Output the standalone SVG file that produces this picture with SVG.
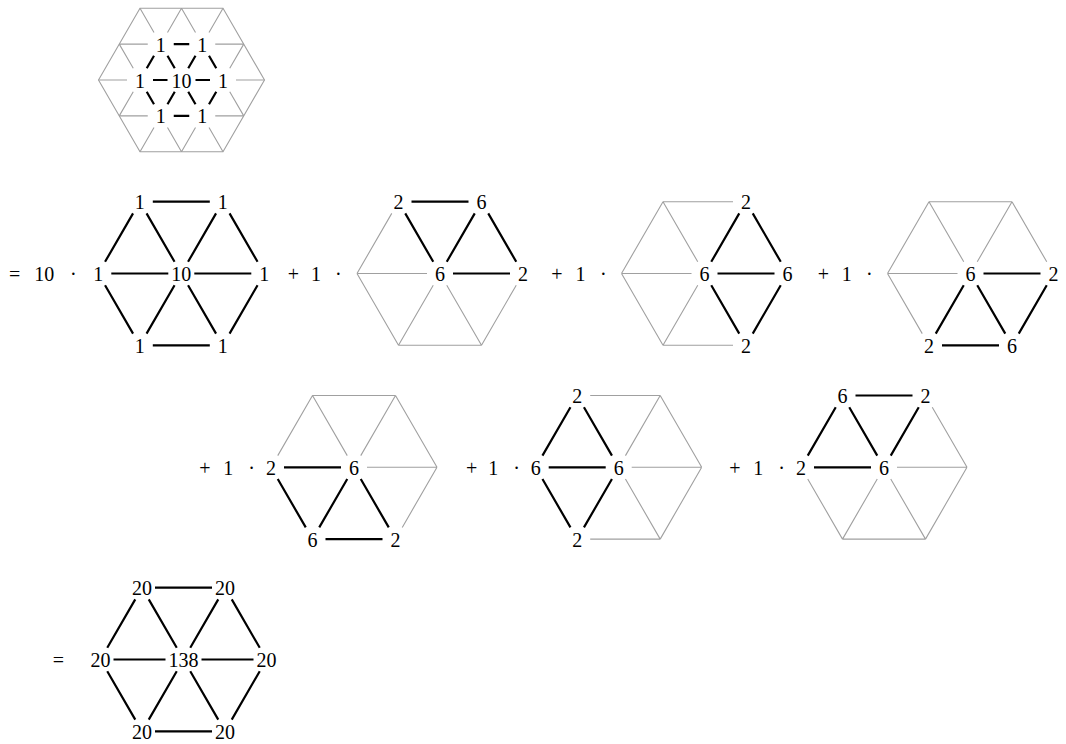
<svg xmlns="http://www.w3.org/2000/svg" width="1066" height="744" viewBox="0 0 1066 744">
<style>
.k{stroke:#000;stroke-width:2.2;fill:none;stroke-linecap:butt}
.g{stroke:#a0a0a0;stroke-width:1.1;fill:none}
text{font-family:"Liberation Serif","Times New Roman",serif;font-size:20px;fill:#000;text-anchor:middle}
</style>
<rect width="1066" height="744" fill="#fff"/>

<g id="hex-top" transform="translate(181.5,80)">
 <g id="hex-top-connectors">
  <polygon class="g" points="-83,0 -41.5,-71.8 41.5,-71.8 83,0 41.5,71.8 -41.5,71.8"/>
  <path class="g" d="M54.5,0L83,0M48.25,-11.69L62.25,-35.9M48.25,11.69L62.25,35.9M-54.5,0L-83,0M-48.25,-11.69L-62.25,-35.9M-48.25,11.69L-62.25,35.9M27.5,-47.59L41.5,-71.8M14,-47.59L0,-71.8M33.75,-35.9L62.25,-35.9M-27.5,-47.59L-41.5,-71.8M-14,-47.59L0,-71.8M-33.75,-35.9L-62.25,-35.9M27.5,47.59L41.5,71.8M14,47.59L0,71.8M33.75,35.9L62.25,35.9M-27.5,47.59L-41.5,71.8M-14,47.59L0,71.8M-33.75,35.9L-62.25,35.9"/>
  <path class="k" d="M14,0L28.5,0M-14,0L-28.5,0M6.75,-11.69L14,-24.21M-6.75,-11.69L-14,-24.21M6.75,11.69L14,24.21M-6.75,11.69L-14,24.21M-7.75,-35.9L7.75,-35.9M-7.75,35.9L7.75,35.9M27.5,-24.21L34.75,-11.69M-27.5,-24.21L-34.75,-11.69M34.75,11.69L27.5,24.21M-34.75,11.69L-27.5,24.21"/>
 </g>
 <g id="hex-top-labels">
  <text x="0" y="7.5">10</text>
  <text x="-41.5" y="7.5">1</text><text x="41.5" y="7.5">1</text>
  <text x="-20.75" y="-28.4">1</text><text x="20.75" y="-28.4">1</text>
  <text x="-20.75" y="43.4">1</text><text x="20.75" y="43.4">1</text>
 </g>
</g>

<g id="row1-terms">
 <text x="14.7" y="281">=</text><text x="44.2" y="281">10</text><text x="73.3" y="281">·</text>
 <text x="293.3" y="281">+</text><text x="316" y="281">1</text><text x="338.3" y="281">·</text>
 <text x="557" y="281">+</text><text x="580.5" y="281">1</text><text x="603.3" y="281">·</text>
 <text x="823.5" y="281">+</text><text x="846.7" y="281">1</text><text x="869.3" y="281">·</text>
</g>

<g id="hex1" transform="translate(181.3,273.5)">
 <g id="hex1-connectors">
  <path class="k" d="M-28.5,-71.8L28.5,-71.8M-28.5,71.8L28.5,71.8M-70,0L-13,0M13,0L70,0M-48.25,-60.11L-76.25,-11.69M-34.75,-60.11L-6.75,-11.69M34.75,-60.11L6.75,-11.69M48.25,-60.11L76.25,-11.69M-76.25,11.69L-48.25,60.11M-6.75,11.69L-34.75,60.11M6.75,11.69L34.75,60.11M76.25,11.69L48.25,60.11"/>
 </g>
 <g id="hex1-labels">
  <text x="-41.5" y="-64.3">1</text><text x="41.5" y="-64.3">1</text>
  <text x="-83" y="7.5">1</text><text x="0" y="7.5">10</text><text x="83" y="7.5">1</text>
  <text x="-41.5" y="79.3">1</text><text x="41.5" y="79.3">1</text>
 </g>
</g>

<g id="hex2" transform="translate(440,273.5)">
 <g id="hex2-connectors">
  <path class="g" d="M-83,0L-48.25,-60.11M-83,0L-13,0M-83,0L-41.5,71.8M-6.75,11.69L-41.5,71.8M6.75,11.69L41.5,71.8M-41.5,71.8L41.5,71.8M76.25,11.69L41.5,71.8"/>
  <path class="k" d="M-28.5,-71.8L28.5,-71.8M-34.75,-60.11L-6.75,-11.69M34.75,-60.11L6.75,-11.69M48.25,-60.11L76.25,-11.69M13,0L70,0"/>
 </g>
 <g id="hex2-labels">
  <text x="-41.5" y="-64.3">2</text><text x="41.5" y="-64.3">6</text>
  <text x="0" y="7.5">6</text><text x="83" y="7.5">2</text>
 </g>
</g>

<g id="hex3" transform="translate(704.5,273.5)">
 <g id="hex3-connectors">
  <path class="g" d="M-41.5,-71.8L28.5,-71.8M-41.5,-71.8L-6.75,-11.69M-41.5,-71.8L-83,0M-83,0L-13,0M-83,0L-41.5,71.8M-41.5,71.8L-6.75,11.69M-41.5,71.8L28.5,71.8"/>
  <path class="k" d="M34.75,-60.11L6.75,-11.69M48.25,-60.11L76.25,-11.69M13,0L70,0M6.75,11.69L34.75,60.11M76.25,11.69L48.25,60.11"/>
 </g>
 <g id="hex3-labels">
  <text x="41.5" y="-64.3">2</text>
  <text x="0" y="7.5">6</text><text x="83" y="7.5">6</text>
  <text x="41.5" y="79.3">2</text>
 </g>
</g>

<g id="hex4" transform="translate(970.5,273.5)">
 <g id="hex4-connectors">
  <path class="g" d="M-41.5,-71.8L41.5,-71.8M-41.5,-71.8L-6.75,-11.69M41.5,-71.8L6.75,-11.69M41.5,-71.8L76.25,-11.69M-41.5,-71.8L-83,0M-83,0L-13,0M-83,0L-48.25,60.11"/>
  <path class="k" d="M13,0L70,0M76.25,11.69L48.25,60.11M6.75,11.69L34.75,60.11M-6.75,11.69L-34.75,60.11M-28.5,71.8L28.5,71.8"/>
 </g>
 <g id="hex4-labels">
  <text x="0" y="7.5">6</text><text x="83" y="7.5">2</text>
  <text x="-41.5" y="79.3">2</text><text x="41.5" y="79.3">6</text>
 </g>
</g>

<g id="row2-terms">
 <text x="205" y="474.8">+</text><text x="228.3" y="474.8">1</text><text x="251.7" y="474.8">·</text>
 <text x="471.7" y="474.8">+</text><text x="493.3" y="474.8">1</text><text x="516.7" y="474.8">·</text>
 <text x="735" y="474.8">+</text><text x="758.3" y="474.8">1</text><text x="781.7" y="474.8">·</text>
</g>

<g id="hex5" transform="translate(354,467.3)">
 <g id="hex5-connectors">
  <path class="g" d="M-41.5,-71.8L41.5,-71.8M-41.5,-71.8L-6.75,-11.69M41.5,-71.8L6.75,-11.69M41.5,-71.8L83,0M13,0L83,0M83,0L48.25,60.11M-41.5,-71.8L-76.25,-11.69"/>
  <path class="k" d="M-70,0L-13,0M-76.25,11.69L-48.25,60.11M-6.75,11.69L-34.75,60.11M6.75,11.69L34.75,60.11M-28.5,71.8L28.5,71.8"/>
 </g>
 <g id="hex5-labels">
  <text x="-83" y="7.5">2</text><text x="0" y="7.5">6</text>
  <text x="-41.5" y="79.3">6</text><text x="41.5" y="79.3">2</text>
 </g>
</g>

<g id="hex6" transform="translate(618.7,467.3)">
 <g id="hex6-connectors">
  <path class="g" d="M-28.5,-71.8L41.5,-71.8M41.5,-71.8L6.75,-11.69M41.5,-71.8L83,0M13,0L83,0M6.75,11.69L41.5,71.8M83,0L41.5,71.8M-28.5,71.8L41.5,71.8"/>
  <path class="k" d="M-48.25,-60.11L-76.25,-11.69M-34.75,-60.11L-6.75,-11.69M-70,0L-13,0M-76.25,11.69L-48.25,60.11M-6.75,11.69L-34.75,60.11"/>
 </g>
 <g id="hex6-labels">
  <text x="-41.5" y="-64.3">2</text>
  <text x="-83" y="7.5">6</text><text x="0" y="7.5">6</text>
  <text x="-41.5" y="79.3">2</text>
 </g>
</g>

<g id="hex7" transform="translate(884,467.3)">
 <g id="hex7-connectors">
  <path class="g" d="M48.25,-60.11L83,0M13,0L83,0M6.75,11.69L41.5,71.8M83,0L41.5,71.8M-41.5,71.8L41.5,71.8M-41.5,71.8L-6.75,11.69M-76.25,11.69L-41.5,71.8"/>
  <path class="k" d="M-28.5,-71.8L28.5,-71.8M-48.25,-60.11L-76.25,-11.69M-34.75,-60.11L-6.75,-11.69M34.75,-60.11L6.75,-11.69M-70,0L-13,0"/>
 </g>
 <g id="hex7-labels">
  <text x="-41.5" y="-64.3">6</text><text x="41.5" y="-64.3">2</text>
  <text x="-83" y="7.5">2</text><text x="0" y="7.5">6</text>
 </g>
</g>

<g id="row3-terms">
 <text x="58.3" y="667">=</text>
</g>

<g id="hex8" transform="translate(183.5,659.5)">
 <g id="hex8-connectors">
  <path class="k" d="M-28.5,-71.8L28.5,-71.8M-28.5,71.8L28.5,71.8M-70,0L-18,0M18,0L70,0M-48.25,-60.11L-76.25,-11.69M-34.75,-60.11L-6.75,-11.69M34.75,-60.11L6.75,-11.69M48.25,-60.11L76.25,-11.69M-76.25,11.69L-48.25,60.11M-6.75,11.69L-34.75,60.11M6.75,11.69L34.75,60.11M76.25,11.69L48.25,60.11"/>
 </g>
 <g id="hex8-labels">
  <text x="-41.5" y="-64.3">20</text><text x="41.5" y="-64.3">20</text>
  <text x="-83" y="7.5">20</text><text x="0" y="7.5">138</text><text x="83" y="7.5">20</text>
  <text x="-41.5" y="79.3">20</text><text x="41.5" y="79.3">20</text>
 </g>
</g>
</svg>
